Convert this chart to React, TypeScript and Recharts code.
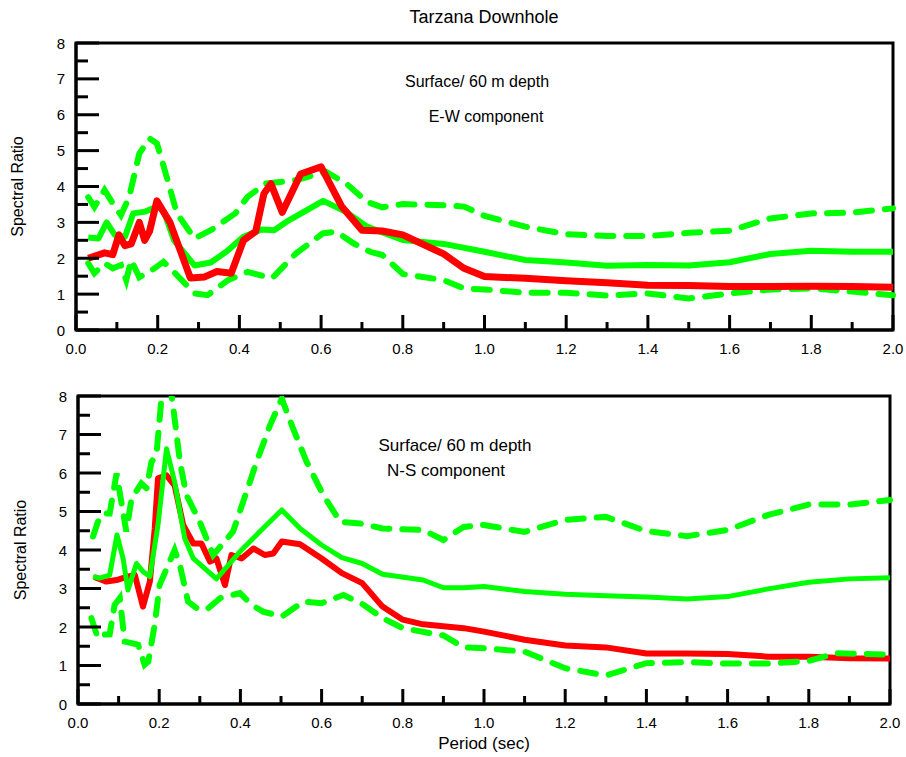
import React from 'react';
import { Line, LineChart, ReferenceArea, XAxis, YAxis } from 'recharts';

// E-W component (top panel)
const ewRedPeriod = [0.03, 0.07, 0.09, 0.105, 0.12, 0.135, 0.155, 0.168, 0.18, 0.198, 0.23, 0.28, 0.315, 0.345, 0.38, 0.41, 0.44, 0.46, 0.477, 0.505, 0.55, 0.6, 0.65, 0.7, 0.75, 0.8, 0.9, 0.95, 1.0, 1.1, 1.2, 1.3, 1.4, 1.5, 1.6, 1.7, 1.8, 1.9, 2.0];
const ewRedRatio = [2.0, 2.15, 2.1, 2.65, 2.35, 2.4, 3.0, 2.5, 2.75, 3.6, 3.0, 1.45, 1.48, 1.63, 1.58, 2.5, 2.75, 3.8, 4.08, 3.28, 4.35, 4.55, 3.45, 2.78, 2.76, 2.65, 2.12, 1.72, 1.49, 1.44, 1.37, 1.32, 1.25, 1.24, 1.21, 1.21, 1.22, 1.21, 1.19];

const ewMeanPeriod = [0.03, 0.055, 0.075, 0.095, 0.12, 0.14, 0.17, 0.2, 0.215, 0.24, 0.29, 0.33, 0.37, 0.41, 0.455, 0.485, 0.52, 0.605, 0.66, 0.71, 0.75, 0.8, 0.9, 1.0, 1.1, 1.2, 1.3, 1.4, 1.5, 1.6, 1.7, 1.8, 1.9, 2.0];
const ewMeanRatio = [2.58, 2.55, 3.0, 2.65, 2.6, 3.25, 3.3, 3.45, 3.3, 2.5, 1.8, 1.88, 2.2, 2.6, 2.8, 2.78, 3.05, 3.6, 3.3, 2.9, 2.72, 2.51, 2.4, 2.18, 1.95, 1.88, 1.79, 1.81, 1.8, 1.89, 2.12, 2.21, 2.18, 2.18];

const ewUpperPeriod = [0.03, 0.045, 0.07, 0.09, 0.11, 0.13, 0.155, 0.18, 0.198, 0.222, 0.247, 0.29, 0.33, 0.39, 0.42, 0.463, 0.54, 0.612, 0.662, 0.712, 0.75, 0.8, 0.9, 0.95, 1.0, 1.1, 1.2, 1.3, 1.4, 1.5, 1.6, 1.7, 1.8, 1.9, 2.0];
const ewUpperRatio = [3.7, 3.43, 3.9, 3.53, 3.2, 3.7, 4.92, 5.34, 5.2, 4.27, 3.25, 2.55, 2.78, 3.25, 3.71, 4.08, 4.18, 4.41, 4.08, 3.57, 3.42, 3.51, 3.48, 3.44, 3.18, 2.88, 2.67, 2.62, 2.62, 2.71, 2.77, 3.11, 3.25, 3.27, 3.39];

const ewLowerPeriod = [0.03, 0.045, 0.07, 0.09, 0.11, 0.123, 0.135, 0.155, 0.18, 0.214, 0.243, 0.29, 0.322, 0.372, 0.42, 0.48, 0.538, 0.604, 0.637, 0.68, 0.72, 0.75, 0.8, 0.9, 0.95, 1.0, 1.1, 1.2, 1.3, 1.4, 1.5, 1.6, 1.7, 1.8, 1.9, 2.0];
const ewLowerRatio = [1.86, 1.58, 1.86, 1.72, 1.81, 1.39, 1.95, 1.47, 1.62, 1.9, 1.58, 1.02, 0.97, 1.39, 1.62, 1.44, 2.13, 2.69, 2.74, 2.41, 2.18, 2.09, 1.56, 1.39, 1.16, 1.13, 1.04, 1.04, 0.96, 1.02, 0.88, 1.02, 1.13, 1.16, 1.07, 0.97];

// N-S component (bottom panel)
const nsRedPeriod = [0.04, 0.07, 0.095, 0.12, 0.14, 0.16, 0.177, 0.189, 0.197, 0.218, 0.238, 0.259, 0.284, 0.304, 0.325, 0.341, 0.362, 0.378, 0.403, 0.432, 0.46, 0.481, 0.502, 0.547, 0.6, 0.65, 0.7, 0.75, 0.8, 0.85, 0.95, 1.0, 1.1, 1.2, 1.3, 1.4, 1.5, 1.6, 1.7, 1.8, 1.9, 2.0];
const nsRedRatio = [3.3, 3.18, 3.22, 3.3, 3.35, 2.53, 3.18, 4.56, 5.86, 5.94, 5.68, 4.65, 4.17, 4.17, 3.7, 3.78, 3.09, 3.87, 3.78, 4.04, 3.87, 3.91, 4.22, 4.15, 3.78, 3.4, 3.14, 2.53, 2.19, 2.07, 1.97, 1.88, 1.67, 1.52, 1.47, 1.31, 1.31, 1.3, 1.23, 1.23, 1.19, 1.18];

const nsMeanPeriod = [0.037, 0.053, 0.078, 0.096, 0.111, 0.123, 0.144, 0.16, 0.177, 0.197, 0.218, 0.238, 0.263, 0.284, 0.341, 0.399, 0.448, 0.502, 0.547, 0.6, 0.65, 0.7, 0.75, 0.85, 0.9, 0.95, 1.0, 1.1, 1.2, 1.3, 1.4, 1.5, 1.6, 1.7, 1.8, 1.9, 2.0];
const nsMeanRatio = [3.31, 3.27, 3.35, 4.39, 3.78, 2.96, 3.65, 3.44, 3.31, 4.65, 6.63, 5.77, 4.3, 3.78, 3.25, 3.96, 4.48, 5.04, 4.56, 4.13, 3.8, 3.65, 3.37, 3.22, 3.02, 3.02, 3.05, 2.92, 2.85, 2.81, 2.78, 2.73, 2.79, 2.99, 3.16, 3.25, 3.28];

const nsUpperPeriod = [0.037, 0.049, 0.062, 0.078, 0.095, 0.119, 0.132, 0.156, 0.169, 0.181, 0.193, 0.207, 0.222, 0.234, 0.251, 0.267, 0.3, 0.333, 0.382, 0.415, 0.44, 0.473, 0.502, 0.53, 0.563, 0.604, 0.646, 0.695, 0.75, 0.85, 0.9, 0.95, 1.0, 1.1, 1.2, 1.3, 1.4, 1.5, 1.6, 1.7, 1.8, 1.9, 2.0];
const nsUpperRatio = [4.35, 4.73, 4.95, 4.95, 5.99, 4.48, 5.34, 5.73, 5.6, 6.29, 6.46, 8.1, 8.6, 7.76, 6.29, 5.43, 4.73, 3.87, 4.48, 5.51, 6.29, 7.24, 7.93, 7.15, 6.29, 5.43, 4.73, 4.69, 4.56, 4.52, 4.26, 4.6, 4.65, 4.47, 4.78, 4.86, 4.49, 4.36, 4.52, 4.91, 5.18, 5.18, 5.3];

const nsLowerPeriod = [0.033, 0.049, 0.062, 0.078, 0.09, 0.103, 0.115, 0.132, 0.148, 0.164, 0.173, 0.189, 0.201, 0.222, 0.238, 0.251, 0.271, 0.292, 0.317, 0.35, 0.399, 0.428, 0.456, 0.502, 0.555, 0.6, 0.654, 0.7, 0.75, 0.8, 0.9, 0.95, 1.0, 1.1, 1.2, 1.3, 1.4, 1.5, 1.6, 1.7, 1.8, 1.87, 2.0];
const nsLowerRatio = [2.23, 1.71, 1.8, 1.81, 2.57, 2.75, 1.62, 1.58, 1.54, 1.02, 1.1, 2.06, 3.09, 3.61, 4.0, 3.61, 2.66, 2.49, 2.45, 2.75, 2.88, 2.57, 2.4, 2.27, 2.66, 2.62, 2.83, 2.6, 2.23, 1.97, 1.78, 1.47, 1.45, 1.36, 0.93, 0.74, 1.06, 1.09, 1.05, 1.05, 1.12, 1.32, 1.28];

const periodTicks = [0, 0.1, 0.2, 0.3, 0.4, 0.5, 0.6, 0.7, 0.8, 0.9, 1.0, 1.1, 1.2, 1.3, 1.4, 1.5, 1.6, 1.7, 1.8, 1.9, 2.0];
const ratioTicks = [0, 0.5, 1, 1.5, 2, 2.5, 3, 3.5, 4, 4.5, 5, 5.5, 6, 6.5, 7, 7.5, 8];

const FONT = '"Liberation Sans", Arial, Helvetica, sans-serif';
const RED = '#ff0000';
const GREEN = '#00ff00';

const zip = (p: number[], v: number[]) => p.map((period, i) => ({ period, ratio: v[i] }));

function PeriodTick({ x, y, payload }: any) {
  const value = payload.value as number;
  const major = Math.round(value * 10) % 2 === 0;
  return (
    <g>
      <line x1={x} y1={y} x2={x} y2={y - (major ? 15 : 8)} stroke="#000" strokeWidth={3} />
      {major && (
        <text x={x} y={y + 24} textAnchor="middle" fontSize={15} fontFamily={FONT} fill="#000">
          {value.toFixed(1)}
        </text>
      )}
    </g>
  );
}

function RatioTick({ x, y, payload }: any) {
  const value = payload.value as number;
  const major = Number.isInteger(value);
  return (
    <g>
      <line x1={x} y1={y} x2={x + (major ? 23 : 12)} y2={y} stroke="#000" strokeWidth={3} />
      {major && (
        <text x={x - 11} y={y + 5.5} textAnchor="end" fontSize={15} fontFamily={FONT} fill="#000">
          {value}
        </text>
      )}
    </g>
  );
}

type Series = { period: number[]; ratio: number[] };

type PanelProps = {
  height: number;
  margin: { top: number; right: number; left: number; bottom: number };
  yAxisWidth: number;
  xAxisHeight: number;
  labelOffset: number;
  red: Series;
  mean: Series;
  upper: Series;
  lower: Series;
  redWidth: number;
  meanWidth: number;
  redOnTop: boolean;
  showPeriodLabel?: boolean;
  children?: React.ReactNode;
};

function Panel(props: PanelProps) {
  const { red, mean, upper, lower } = props;
  const dashed = { stroke: GREEN, strokeWidth: 6, strokeDasharray: '16 13', strokeLinecap: 'round' as const };
  const redLine = (
    <Line
      key="red"
      data={zip(red.period, red.ratio)}
      dataKey="ratio"
      dot={false}
      stroke={RED}
      strokeWidth={props.redWidth}
      strokeLinejoin="round"
      isAnimationActive={false}
    />
  );
  const greenLines = [
    <Line key="upper" data={zip(upper.period, upper.ratio)} dataKey="ratio" dot={false} isAnimationActive={false} {...dashed} />,
    <Line key="lower" data={zip(lower.period, lower.ratio)} dataKey="ratio" dot={false} isAnimationActive={false} {...dashed} />,
    <Line
      key="mean"
      data={zip(mean.period, mean.ratio)}
      dataKey="ratio"
      dot={false}
      stroke={GREEN}
      strokeWidth={props.meanWidth}
      strokeLinejoin="round"
      isAnimationActive={false}
    />,
  ];
  return (
    <LineChart width={906} height={props.height} margin={props.margin}>
      <XAxis
        dataKey="period"
        type="number"
        domain={[0, 2]}
        ticks={periodTicks}
        interval={0}
        tickSize={0}
        tickMargin={0}
        tickLine={false}
        axisLine={{ stroke: '#000', strokeWidth: 3 }}
        tick={<PeriodTick />}
        height={props.xAxisHeight}
        label={
          props.showPeriodLabel
            ? { value: 'Period (sec)', position: 'insideBottom', offset: 8, fontSize: 17, fontFamily: FONT, fill: '#000' }
            : undefined
        }
      />
      <YAxis
        type="number"
        domain={[0, 8]}
        allowDataOverflow
        ticks={ratioTicks}
        interval={0}
        tickSize={0}
        tickMargin={0}
        tickLine={false}
        axisLine={{ stroke: '#000', strokeWidth: 3 }}
        tick={<RatioTick />}
        width={props.yAxisWidth}
        label={{
          value: 'Spectral Ratio',
          angle: -90,
          position: 'insideLeft',
          offset: props.labelOffset,
          fontSize: 16,
          fontFamily: FONT,
          fill: '#000',
          style: { textAnchor: 'middle' },
        }}
      />
      <ReferenceArea x1={0} x2={2} y1={0} y2={8} fill="none" stroke="#000" strokeWidth={3} />
      {props.redOnTop ? [...greenLines, redLine] : [redLine, ...greenLines]}
      {props.children}
    </LineChart>
  );
}

export default function App() {
  return (
    <div style={{ position: 'absolute', left: 0, top: 0, width: 906, height: 757, background: '#fff', fontFamily: FONT }}>
      <Panel
        height={360}
        margin={{ top: 43, right: 13, left: 0, bottom: 0 }}
        yAxisWidth={76}
        xAxisHeight={30}
        labelOffset={17}
        red={{ period: ewRedPeriod, ratio: ewRedRatio }}
        mean={{ period: ewMeanPeriod, ratio: ewMeanRatio }}
        upper={{ period: ewUpperPeriod, ratio: ewUpperRatio }}
        lower={{ period: ewLowerPeriod, ratio: ewLowerRatio }}
        redWidth={7}
        meanWidth={6}
        redOnTop
      >
        <text x={484} y={23} textAnchor="middle" fontSize={18} fontFamily={FONT} fill="#000">
          Tarzana Downhole
        </text>
        <text x={477} y={87} textAnchor="middle" fontSize={16} fontFamily={FONT} fill="#000">
          Surface/ 60 m depth
        </text>
        <text x={486} y={122} textAnchor="middle" fontSize={16} fontFamily={FONT} fill="#000">
          E-W component
        </text>
      </Panel>
      <div style={{ position: 'absolute', left: 0, top: 360 }}>
        <Panel
          height={397}
          margin={{ top: 36, right: 16, left: 0, bottom: 0 }}
          yAxisWidth={78}
          xAxisHeight={53}
          labelOffset={20}
          red={{ period: nsRedPeriod, ratio: nsRedRatio }}
          mean={{ period: nsMeanPeriod, ratio: nsMeanRatio }}
          upper={{ period: nsUpperPeriod, ratio: nsUpperRatio }}
          lower={{ period: nsLowerPeriod, ratio: nsLowerRatio }}
          redWidth={6}
          meanWidth={5}
          redOnTop={false}
          showPeriodLabel
        >
          <text x={455} y={91} textAnchor="middle" fontSize={17} fontFamily={FONT} fill="#000">
            Surface/ 60 m depth
          </text>
          <text x={446} y={116} textAnchor="middle" fontSize={17} fontFamily={FONT} fill="#000">
            N-S component
          </text>
        </Panel>
      </div>
    </div>
  );
}
